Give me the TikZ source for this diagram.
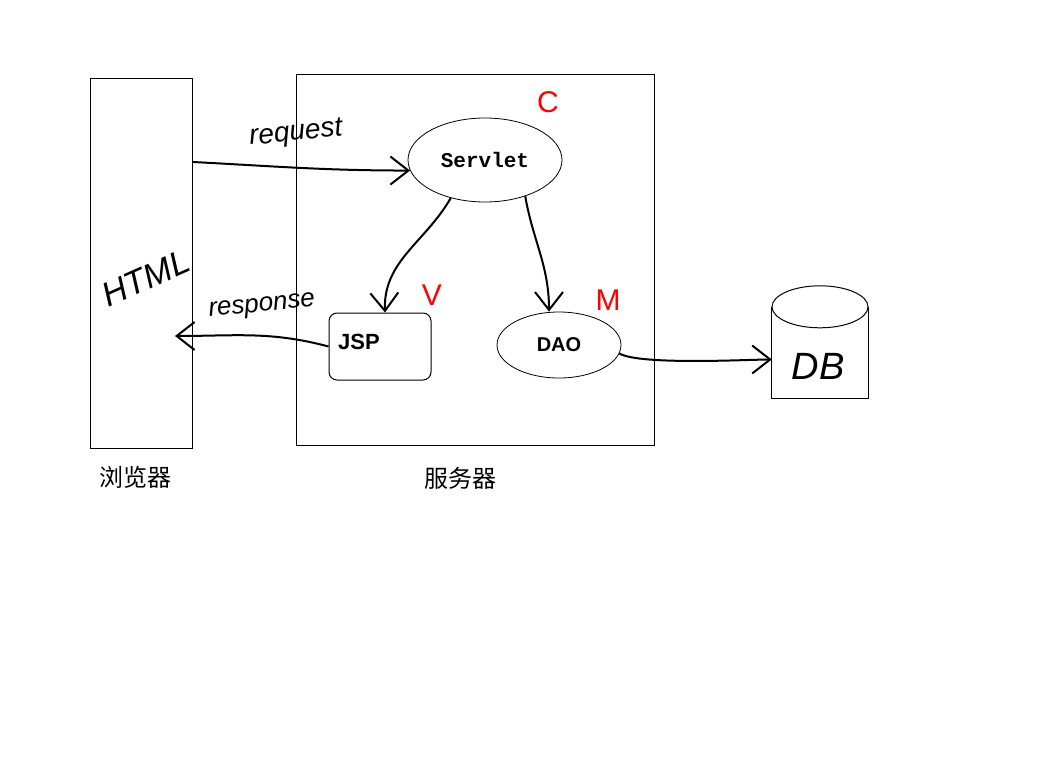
\documentclass[tikz,border=0pt]{standalone}
\usepackage{fontspec}
\setmainfont{Liberation Sans}
\newfontfamily\cjk{Noto Sans CJK SC}
\newfontfamily\monob{Liberation Mono}
\usetikzlibrary{arrows.meta, positioning, calc, shapes.geometric}

\begin{document}
\begin{tikzpicture}[
  x=1pt, y=-1pt,
  frame/.style={
    rectangle,
    draw,
    line width=1pt,
    inner sep=0pt
  },
  oval/.style={
    ellipse,
    draw,
    line width=0.8pt,
    inner sep=0pt
  },
  hand/.style={
    font=\itshape\fontsize{28}{28}\selectfont
  },
  redmark/.style={
    text=red,
    font=\fontsize{30}{30}\selectfont
  },
  caption/.style={
    font=\cjk\fontsize{24}{24}\selectfont
  },
  arrow/.style={
    -{Straight Barb[length=18pt, width=28pt, line width=2pt]},
    line width=2pt
  }
]
\useasboundingbox (0,0) rectangle (1050,777);

% =========================================================
% Browser side
% =========================================================
\node[frame, minimum width=102pt, minimum height=370pt] (browser) at (141,263) {};
\node[hand, font=\itshape\fontsize{34}{34}\selectfont, rotate=24] (html) at (146,278) {HTML};
\node[caption] (browsercap) at (135,477) {浏览器};

\coordinate (htmlout) at (193,162);
\coordinate (htmlin)  at (175,336);

% =========================================================
% Server side
% =========================================================
\node[frame, minimum width=358pt, minimum height=371pt] (server) at (475,259.5) {};
\node[caption] (servercap) at (460,478) {服务器};

\node[oval, minimum width=154pt, minimum height=84pt, font=\monob\bfseries\fontsize{21}{21}\selectfont] (servlet) at (485,160) {Servlet};

\node[frame, rounded corners=8pt, minimum width=102pt, minimum height=67pt] (jsp) at (380,346.5) {};
\node[font=\bfseries\fontsize{22}{22}\selectfont] (jsptext) at (359,342) {JSP};

\node[oval, minimum width=124pt, minimum height=66pt, font=\bfseries\fontsize{20}{20}\selectfont] (dao) at (559,345) {DAO};

% red MVC marks
\node[redmark] (markc) at (548,102) {C};
\node[redmark] (markv) at (432,295) {V};
\node[redmark] (markm) at (608,300) {M};

% =========================================================
% Database
% =========================================================
\node[minimum width=96pt, minimum height=91pt, inner sep=0pt] (db) at (820,352.5) {};
\draw[line width=1pt] (db.north west) -- (db.south west) -- (db.south east) -- (db.north east);
\node[oval, minimum width=96pt, minimum height=42pt, line width=1pt] (dbtop) at (db.north) {};
\node[hand, font=\itshape\fontsize{38}{38}\selectfont] (dbtext) at (818,366) {DB};

% =========================================================
% Connectors
% =========================================================
\draw[arrow] (htmlout) to[out=-3, in=180] (servlet.188);
\node[hand, rotate=6] (request) at (296,134) {request};

\draw[arrow] (servlet.228) to[out=240, in=92] ([xshift=5pt]jsp.north);
\draw[arrow] (servlet.318) to[out=-80, in=90] ([xshift=-10pt]dao.north);

\draw[arrow] (jsp.west) to[out=165, in=0] (htmlin);
\node[hand, font=\itshape\fontsize{26}{26}\selectfont, rotate=6] (response) at (262,307) {response};

\draw[arrow] (dao.-8) to[out=-30, in=180, looseness=0.4] ([yshift=-7pt]db.west);

\end{tikzpicture}
\end{document}
